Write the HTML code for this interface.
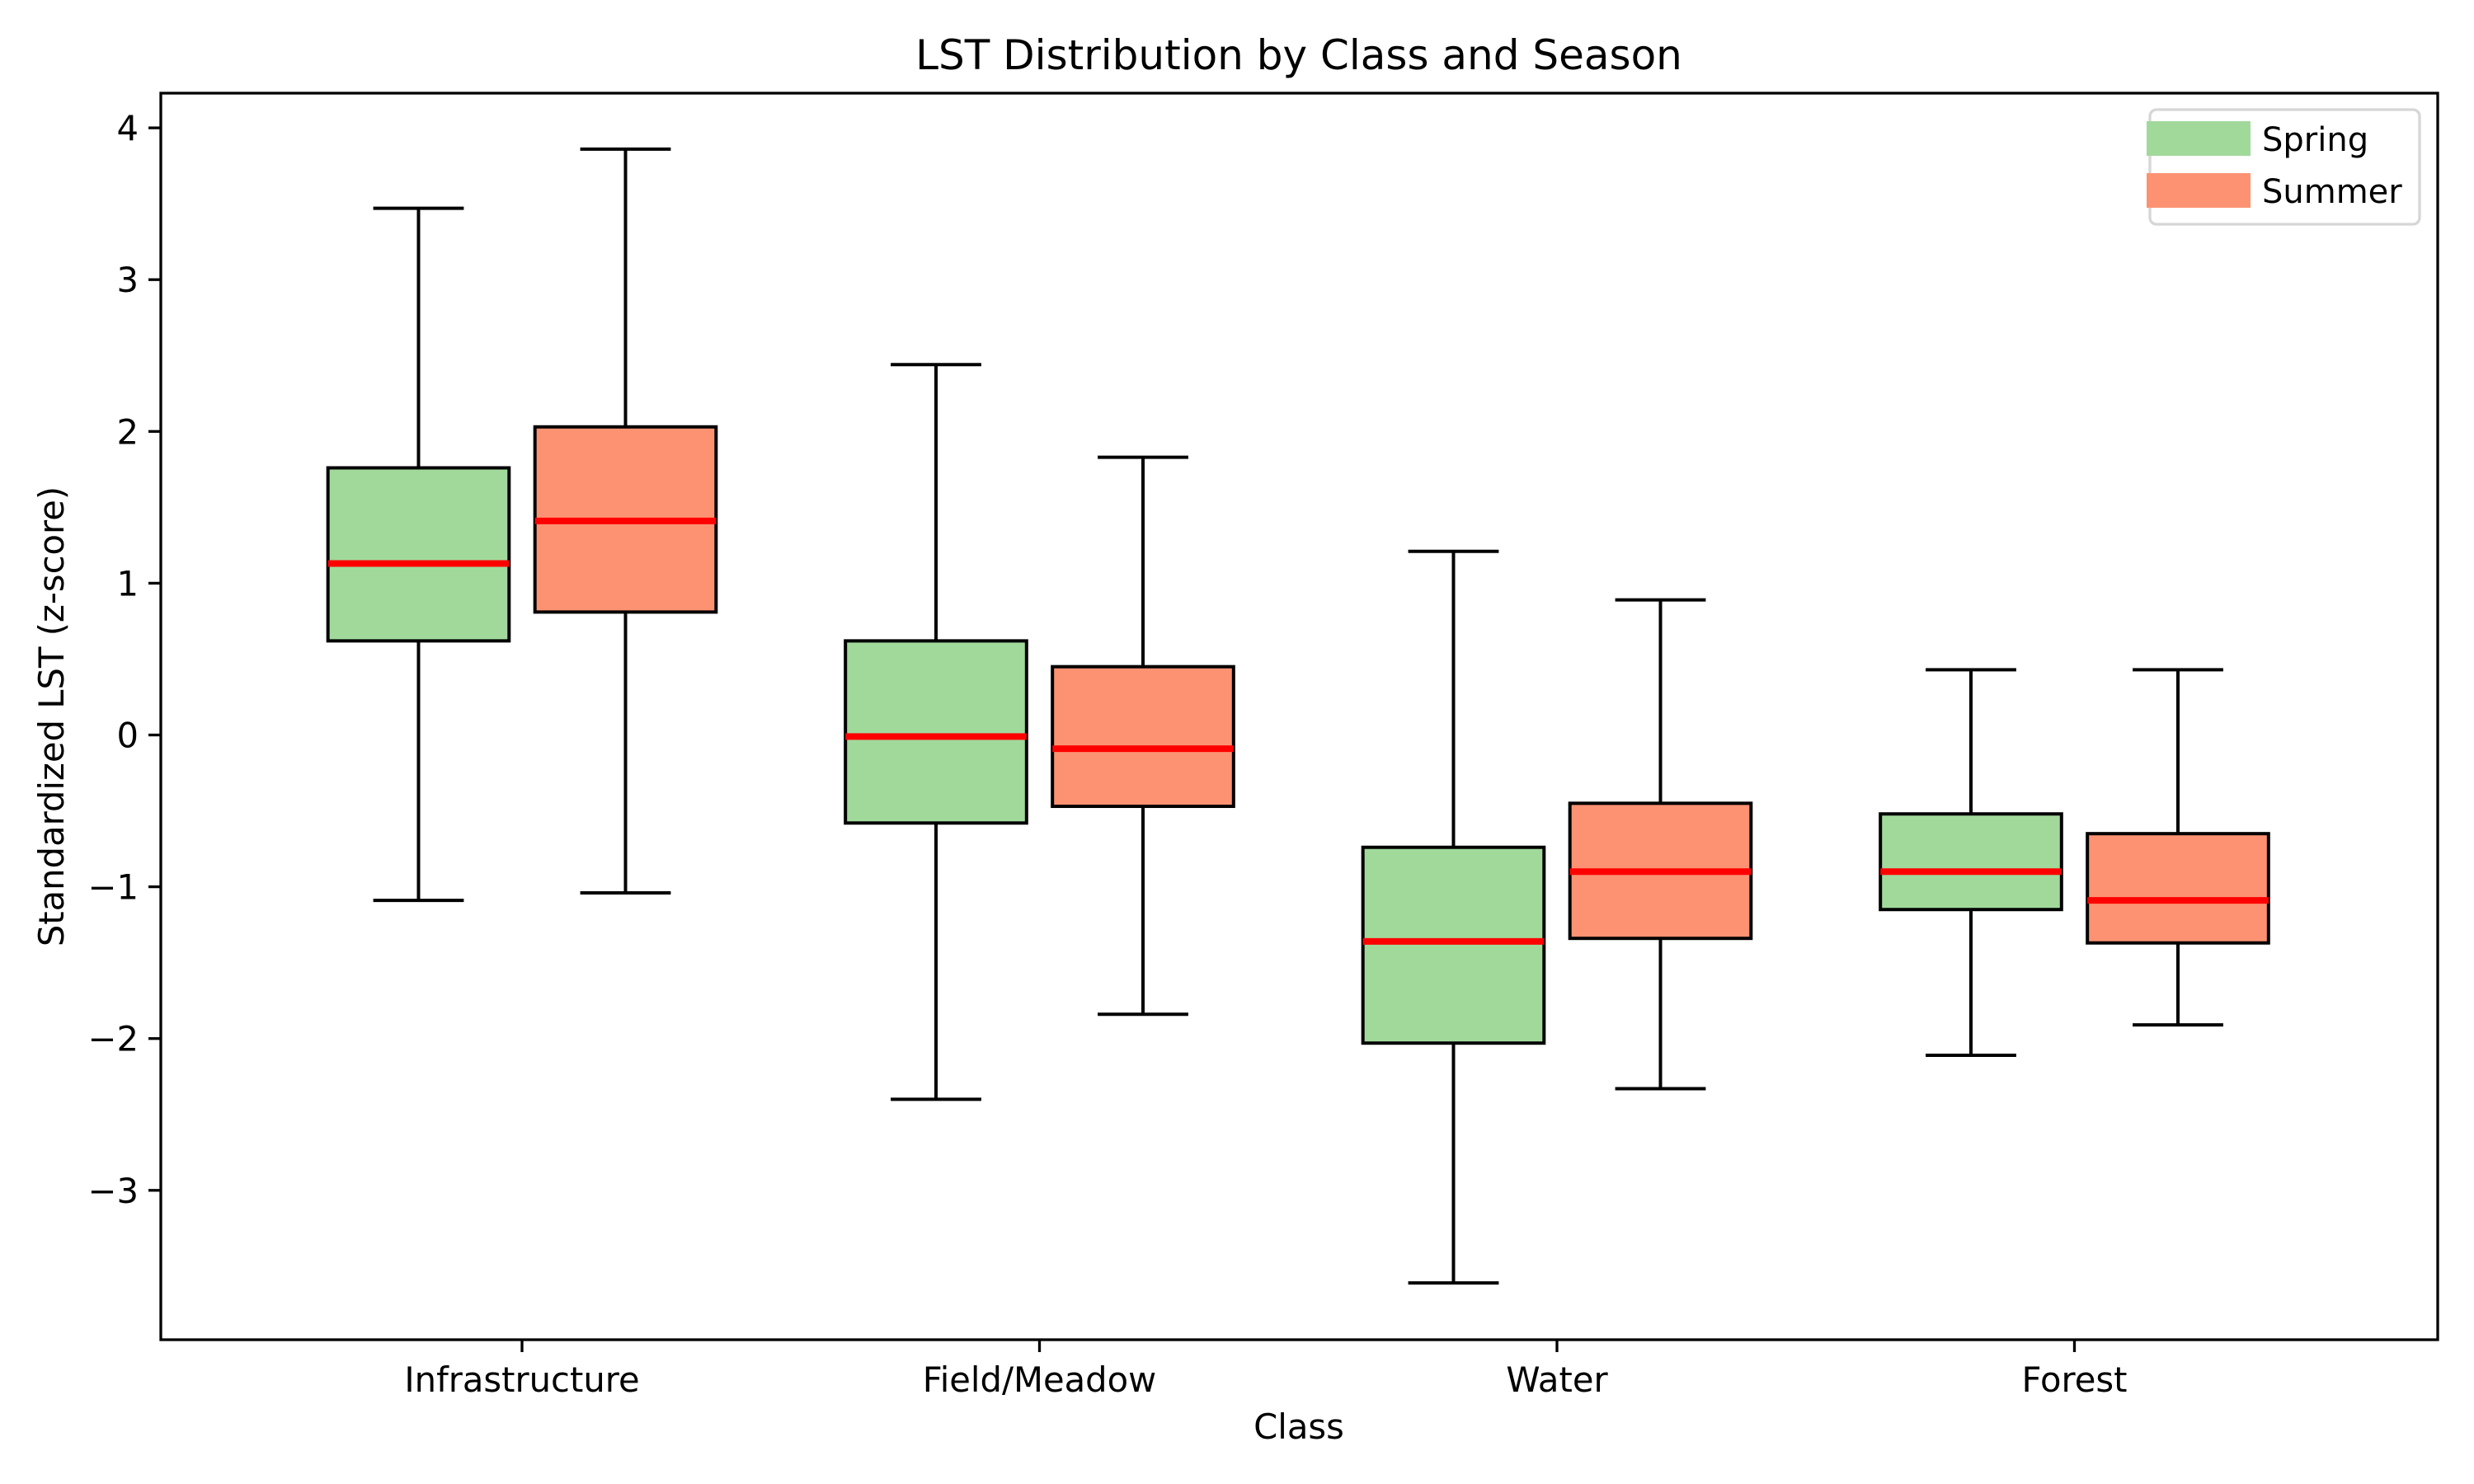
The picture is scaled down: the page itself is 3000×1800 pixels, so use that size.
<!DOCTYPE html>
<html><head><meta charset="utf-8"><style>body{margin:0;background:#fff}svg{display:block;font-family:"DejaVu Sans","Liberation Sans",sans-serif}</style></head>
<body>
<svg id="chart" width="3000" height="1800" xmlns="http://www.w3.org/2000/svg">
<rect width="3000" height="1800" fill="#fff"/>
<g id="plot"></g>
<rect x="195" y="113" width="2761" height="1512" fill="none" stroke="#000" stroke-width="3.3"/>
<text x="1575" y="84" font-size="50" text-anchor="middle">LST Distribution by Class and Season</text>
<text x="1575" y="1745" font-size="41.7" text-anchor="middle">Class</text>
<text transform="translate(77,869) rotate(-90)" font-size="41.7" text-anchor="middle">Standardized LST (z-score)</text>
<g>
<rect x="2607" y="133" width="327" height="139" rx="8" fill="#fff" fill-opacity="0.8" stroke="#d6d6d6" stroke-width="3.3"/>
<rect x="2603" y="147" width="126" height="42" fill="#a1d99b"/>
<text x="2743" y="183" font-size="40">Spring</text>
<rect x="2603" y="210" width="126" height="42" fill="#fc9272"/>
<text x="2743" y="246" font-size="40">Summer</text>
</g>
</svg>
<script>
const categories = ["Infrastructure","Field/Meadow","Water","Forest"];
const seasons = ["Spring","Summer"];
const springLow = [-1.09,-2.40,-3.61,-2.11];
const springQ1 = [0.62,-0.58,-2.03,-1.15];
const springMed = [1.13,-0.01,-1.36,-0.90];
const springQ3 = [1.76,0.62,-0.74,-0.52];
const springHigh = [3.47,2.44,1.21,0.43];
const summerLow = [-1.04,-1.84,-2.33,-1.91];
const summerQ1 = [0.81,-0.47,-1.34,-1.37];
const summerMed = [1.41,-0.09,-0.90,-1.09];
const summerQ3 = [2.03,0.45,-0.45,-0.65];
const summerHigh = [3.86,1.83,0.89,0.43];
const yTicks = [-3,-2,-1,0,1,2,3,4];
const yTickLabels = ["\u22123","\u22122","\u22121","0","1","2","3","4"];

const NS="http://www.w3.org/2000/svg";
const g=document.getElementById('plot');
const yS=v=>891.5-184.1*v;
const unit=627.5;
const xS=i=>633+unit*i;
function mk(tag,attrs,parent){const e=document.createElementNS(NS,tag);for(const k in attrs)e.setAttribute(k,attrs[k]);(parent||g).appendChild(e);return e;}

yTicks.forEach((t,i)=>{
  const y=yS(t);
  const tk=mk('line',{x1:180,x2:195,y1:y,y2:y,stroke:'#000','stroke-width':3.3});
  
  
  const tx=mk('text',{x:168,y:y+15,'font-size':41.7,'text-anchor':'end'});
  tx.textContent=yTickLabels[i];
  
  
});
categories.forEach((c,i)=>{
  const x=xS(i);
  const tk=mk('line',{x1:x,x2:x,y1:1625,y2:1640,stroke:'#000','stroke-width':3.3});
  
  
  const tx=mk('text',{x:x,y:1688,'font-size':41.7,'text-anchor':'middle'});
  tx.textContent=c;
  
  
});
const sets=[[springLow,springQ1,springMed,springQ3,springHigh,'#a1d99b',-0.2],[summerLow,summerQ1,summerMed,summerQ3,summerHigh,'#fc9272',0.2]];
sets.forEach((s,si)=>{
  const [lo,q1,md,q3,hi,col,off]=s;
  categories.forEach((c,i)=>{
    const cx=xS(i)+off*unit, hw=0.175*unit, cw=0.0875*unit;
    const grp=mk('g',{});
    
    
    mk('line',{x1:cx,x2:cx,y1:yS(hi[i]),y2:yS(q3[i]),stroke:'#000','stroke-width':4},grp);
    mk('line',{x1:cx,x2:cx,y1:yS(q1[i]),y2:yS(lo[i]),stroke:'#000','stroke-width':4},grp);
    mk('line',{x1:cx-cw,x2:cx+cw,y1:yS(hi[i]),y2:yS(hi[i]),stroke:'#000','stroke-width':4},grp);
    mk('line',{x1:cx-cw,x2:cx+cw,y1:yS(lo[i]),y2:yS(lo[i]),stroke:'#000','stroke-width':4},grp);
    mk('rect',{x:cx-hw,y:yS(q3[i]),width:2*hw,height:yS(q1[i])-yS(q3[i]),fill:col,stroke:'#000','stroke-width':4},grp);
    mk('line',{x1:cx-hw,x2:cx+hw,y1:yS(md[i]),y2:yS(md[i]),stroke:'#ff0000','stroke-width':8},grp);
  });
});
</script>
</body></html>
